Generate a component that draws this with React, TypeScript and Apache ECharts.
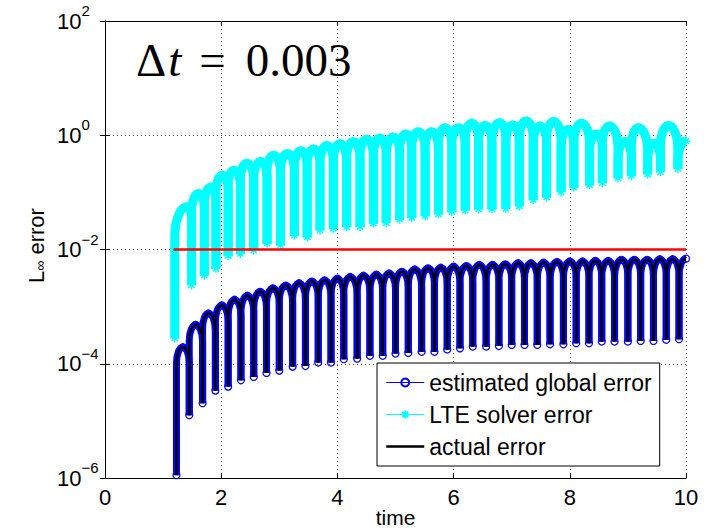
import React, { useEffect, useRef } from 'react';
import * as echarts from 'echarts';

// ---- data (time, L-infinity error) ----
// actual error: local minima (troughs) and maxima (peaks) of each oscillation
const actualTroughTime = [1.23, 1.45, 1.68, 1.90, 2.12, 2.34, 2.56, 2.78, 3.00, 3.23, 3.45, 3.67, 3.89, 4.11, 4.34, 4.56, 4.78, 5.00, 5.22, 5.45, 5.67, 5.89, 6.11, 6.33, 6.56, 6.78, 7.00, 7.22, 7.44, 7.66, 7.89, 8.11, 8.33, 8.55, 8.77, 9.00, 9.22, 9.44, 9.66, 9.88];
const actualTroughError = [1.12e-6, 1.26e-5, 2.04e-5, 3.39e-5, 3.98e-5, 5.13e-5, 5.89e-5, 6.92e-5, 7.59e-5, 8.91e-5, 9.12e-5, 1.05e-4, 1.05e-4, 1.20e-4, 1.23e-4, 1.38e-4, 1.38e-4, 1.51e-4, 1.55e-4, 1.62e-4, 1.62e-4, 1.78e-4, 1.86e-4, 2.00e-4, 2.00e-4, 2.04e-4, 2.14e-4, 2.14e-4, 2.14e-4, 2.19e-4, 2.19e-4, 2.29e-4, 2.29e-4, 2.45e-4, 2.45e-4, 2.45e-4, 2.51e-4, 2.51e-4, 2.63e-4, 2.69e-4];
const actualPeakTime = [1.34, 1.56, 1.78, 2.01, 2.23, 2.45, 2.67, 2.89, 3.11, 3.34, 3.56, 3.78, 4.00, 4.22, 4.45, 4.67, 4.89, 5.11, 5.33, 5.56, 5.78, 6.00, 6.22, 6.44, 6.67, 6.89, 7.11, 7.33, 7.55, 7.78, 8.00, 8.22, 8.44, 8.66, 8.89, 9.11, 9.33, 9.55, 9.77, 10.0];
const actualPeakError = [1.95e-4, 4.79e-4, 7.59e-4, 1.05e-3, 1.32e-3, 1.55e-3, 1.82e-3, 2.09e-3, 2.34e-3, 2.57e-3, 2.75e-3, 2.88e-3, 3.09e-3, 3.31e-3, 3.47e-3, 3.63e-3, 3.80e-3, 4.07e-3, 4.47e-3, 4.68e-3, 4.79e-3, 5.01e-3, 5.13e-3, 5.37e-3, 5.37e-3, 5.50e-3, 5.75e-3, 5.75e-3, 5.89e-3, 6.03e-3, 6.17e-3, 6.17e-3, 6.31e-3, 6.31e-3, 6.61e-3, 6.61e-3, 6.61e-3, 6.76e-3, 6.76e-3, 6.92e-3];

// estimated global error: visually coincides with the actual error
const estimatedTroughTime = actualTroughTime;
const estimatedTroughError = actualTroughError;
const estimatedPeakTime = actualPeakTime;
const estimatedPeakError = actualPeakError;

// LTE solver error
const lteTroughTime = [1.20, 1.49, 1.71, 1.91, 2.12, 2.33, 2.56, 2.79, 3.02, 3.26, 3.48, 3.70, 3.93, 4.16, 4.39, 4.62, 4.84, 5.07, 5.28, 5.51, 5.74, 5.97, 6.20, 6.43, 6.66, 6.90, 7.13, 7.37, 7.60, 7.85, 8.07, 8.34, 8.56, 8.83, 9.06, 9.34, 9.56, 9.86];
const lteTroughError = [2.82e-4, 2.40e-3, 3.55e-3, 4.68e-3, 7.76e-3, 8.51e-3, 9.77e-3, 1.29e-2, 1.20e-2, 1.78e-2, 1.66e-2, 2.19e-2, 2.34e-2, 2.51e-2, 2.51e-2, 2.88e-2, 2.95e-2, 3.39e-2, 3.63e-2, 3.89e-2, 4.17e-2, 4.57e-2, 4.90e-2, 5.13e-2, 5.13e-2, 5.25e-2, 5.75e-2, 7.41e-2, 8.32e-2, 1.02e-1, 1.23e-1, 1.35e-1, 1.48e-1, 1.78e-1, 1.95e-1, 2.09e-1, 2.29e-1, 2.63e-1];
const ltePeakTime = [1.41, 1.61, 1.82, 2.02, 2.22, 2.44, 2.68, 2.90, 3.14, 3.37, 3.59, 3.82, 4.04, 4.27, 4.50, 4.73, 4.96, 5.18, 5.39, 5.62, 5.85, 6.08, 6.31, 6.54, 6.79, 7.02, 7.25, 7.49, 7.72, 7.97, 8.20, 8.46, 8.68, 8.95, 9.18, 9.45, 9.70, 10.0];
const ltePeakError = [5.62e-2, 9.55e-2, 1.23e-1, 2.00e-1, 2.45e-1, 3.24e-1, 3.47e-1, 4.47e-1, 4.79e-1, 5.37e-1, 5.75e-1, 6.61e-1, 7.08e-1, 7.76e-1, 8.51e-1, 8.91e-1, 9.33e-1, 1.05, 1.15, 1.15, 1.35, 1.35, 1.62, 1.48, 1.66, 1.51, 1.78, 1.45, 1.74, 1.26, 1.62, 1.05, 1.45, 0.776, 1.35, 0.724, 1.48, 0.794];

// tolerance line
const thresholdTime = [1.18, 10.0];
const thresholdError = [1e-2, 1e-2];

// axes
const xTicks = { min: 0, max: 10, interval: 2 };
const yTicks = { min: 1e-6, max: 1e2 };

const legendNames = ['estimated global error', 'LTE solver error', 'actual error'];

const SANS = '"Liberation Sans", Arial, Helvetica, sans-serif';
const SERIF = '"Liberation Serif", "Times New Roman", serif';

function pairs(t: number[], v: number[]) {
  return t.map((x, i) => [x, v[i]]);
}
function merge(a: number[][], b: number[][]) {
  return [...a, ...b].sort((p, q) => p[0] - q[0]);
}
// one record per oscillation: left trough, peak, right trough (or the peak itself at the end)
function arches(trT: number[], trV: number[], pkT: number[], pkV: number[]) {
  return pkT.map((t, i) => [
    trT[i], trV[i], t, pkV[i],
    i + 1 < trT.length ? trT[i + 1] : t,
    i + 1 < trV.length ? trV[i + 1] : pkV[i],
  ]);
}

// draws each oscillation as a rounded arch through trough -> peak -> trough
function archRenderer(color: string, width: number) {
  return (_params: any, api: any) => {
    const a = api.coord([api.value(0), api.value(1)]);
    const p = api.coord([api.value(2), api.value(3)]);
    const b = api.coord([api.value(4), api.value(5)]);
    const wl = p[0] - a[0];
    const wr = b[0] - p[0];
    const hl = Math.min(2.5 * wl, 0.85 * (a[1] - p[1]));
    let d =
      `M${a[0]},${a[1]} L${a[0]},${p[1] + hl} ` +
      `C${a[0]},${p[1] + 0.45 * hl} ${p[0] - 0.55 * wl},${p[1]} ${p[0]},${p[1]}`;
    if (wr > 0.01) {
      const hr = Math.min(2.5 * wr, 0.85 * (b[1] - p[1]));
      d +=
        ` C${p[0] + 0.55 * wr},${p[1]} ${b[0]},${p[1] + 0.45 * hr} ${b[0]},${p[1] + hr}` +
        ` L${b[0]},${b[1]}`;
    }
    return {
      type: 'path',
      shape: { pathData: d },
      style: { fill: 'none', stroke: color, lineWidth: width, lineJoin: 'round' },
    };
  };
}

export default function App() {
  const ref = useRef<HTMLDivElement>(null);
  useEffect(() => {
    const chart = echarts.init(ref.current!, null, { renderer: 'svg' });
    const lteData = merge(pairs(lteTroughTime, lteTroughError), pairs(ltePeakTime, ltePeakError));
    const actualData = merge(pairs(actualTroughTime, actualTroughError), pairs(actualPeakTime, actualPeakError));
    const estData = merge(pairs(estimatedTroughTime, estimatedTroughError), pairs(estimatedPeakTime, estimatedPeakError));
    const lteArches = arches(lteTroughTime, lteTroughError, ltePeakTime, ltePeakError);
    const actualArches = arches(actualTroughTime, actualTroughError, actualPeakTime, actualPeakError);
    const estArches = arches(estimatedTroughTime, estimatedTroughError, estimatedPeakTime, estimatedPeakError);
    const supLabel = (v: number) => {
      const e = Math.round(Math.log10(v));
      return `{b|10}{s|${e < 0 ? '\u2212' + -e : e}}`;
    };
    const asterisk = 'path://M5,0L5,10M0,5L10,5M1.6,1.6L8.4,8.4M1.6,8.4L8.4,1.6';
    const tickStyle = { show: true, inside: true, length: 5, lineStyle: { color: '#000', width: 1 } };
    const gridLine = { show: true, lineStyle: { color: '#555', type: [1, 3], width: 1 } };
    const archEncode = { x: [0, 2, 4], y: [1, 3, 5] };
    chart.setOption({
      animation: false,
      backgroundColor: '#fff',
      grid: { left: 105, right: 18, top: 21, bottom: 52, containLabel: false, outerBoundsMode: 'none' },
      graphic: [
        {
          type: 'text',
          left: 136,
          top: 36,
          z: 100,
          style: {
            text: '{d|\u0394}{i|t}{e|=}{r|0.003}',
            rich: {
              d: { fontFamily: SERIF, fontSize: 47, fill: '#000', padding: [0, 2, 0, 0] },
              i: { fontFamily: SERIF, fontSize: 47, fontStyle: 'italic', fill: '#000' },
              e: { fontFamily: SERIF, fontSize: 47, fill: '#000', padding: [0, 20, 0, 18] },
              r: { fontFamily: SERIF, fontSize: 47, fill: '#000' },
            },
          },
        },
      ],
      legend: {
        orient: 'vertical',
        left: 377,
        top: 363,
        padding: 8,
        itemGap: 9,
        itemWidth: 38,
        itemHeight: 10,
        backgroundColor: '#fff',
        borderColor: '#000',
        borderWidth: 1,
        borderRadius: 0,
        selectedMode: false,
        textStyle: { fontFamily: SANS, fontSize: 23, color: '#000', lineHeight: 22 },
        data: [
          { name: legendNames[0], lineStyle: { opacity: 1, width: 1 } },
          { name: legendNames[1], lineStyle: { opacity: 1, width: 1 } },
          { name: legendNames[2], lineStyle: { opacity: 1, width: 2.5 }, itemStyle: { opacity: 0 } },
        ],
      },
      xAxis: [
        {
          type: 'value',
          ...xTicks,
          position: 'bottom',
          name: 'time',
          nameLocation: 'middle',
          nameGap: 29,
          nameMoveOverlap: false,
          nameTextStyle: { fontFamily: SANS, fontSize: 21, color: '#000', lineHeight: 21 },
          axisLine: { show: true, onZero: false, lineStyle: { color: '#000', width: 1 } },
          axisTick: tickStyle,
          axisLabel: { fontFamily: SANS, fontSize: 22, color: '#000', margin: 8 },
          splitLine: gridLine,
        },
        {
          type: 'value',
          ...xTicks,
          position: 'top',
          axisLine: { show: true, onZero: false, lineStyle: { color: '#000', width: 1 } },
          axisTick: tickStyle,
          axisLabel: { show: false },
          splitLine: { show: false },
        },
      ],
      yAxis: [
        {
          type: 'log',
          logBase: 10,
          ...yTicks,
          interval: 2,
          position: 'left',
          name: '{a|L}{u|\u221e}{a| error}',
          nameLocation: 'middle',
          nameGap: 58,
          nameRotate: 90,
          nameMoveOverlap: false,
          nameTextStyle: {
            padding: [0, 0, 0, 8],
            rich: {
              a: { fontFamily: SANS, fontSize: 22, color: '#000' },
              u: { fontFamily: SANS, fontSize: 14, color: '#000', verticalAlign: 'bottom' },
            },
          },
          axisLine: { show: true, lineStyle: { color: '#000', width: 1 } },
          axisTick: tickStyle,
          axisLabel: {
            formatter: supLabel,
            align: 'left',
            margin: 48,
            rich: {
              b: { fontFamily: SANS, fontSize: 22, color: '#000', padding: [7, 0, 7, 0] },
              s: { fontFamily: SANS, fontSize: 15, color: '#000', verticalAlign: 'top' },
            },
          },
          splitLine: gridLine,
        },
        {
          type: 'log',
          logBase: 10,
          ...yTicks,
          interval: 2,
          position: 'right',
          axisLine: { show: true, lineStyle: { color: '#000', width: 1 } },
          axisTick: tickStyle,
          axisLabel: { show: false },
          splitLine: { show: false },
        },
      ],
      series: [
        {
          name: 'estimatedArches',
          type: 'custom',
          data: estArches,
          encode: archEncode,
          renderItem: archRenderer('#0000ff', 7),
          silent: true,
          clip: true,
          z: 1,
        },
        {
          name: 'estimated global error',
          type: 'line',
          data: estData,
          symbol: 'circle',
          symbolSize: 7,
          showAllSymbol: true,
          lineStyle: { color: '#0000ff', width: 1, opacity: 0 },
          itemStyle: { color: 'rgba(255,255,255,0)', borderColor: '#0000ff', borderWidth: 1.2 },
          z: 2,
        },
        {
          name: 'lteArches',
          type: 'custom',
          data: lteArches,
          encode: archEncode,
          renderItem: archRenderer('#00ffff', 9),
          silent: true,
          clip: true,
          z: 3,
        },
        {
          name: 'LTE solver error',
          type: 'line',
          data: lteData,
          symbol: asterisk,
          symbolSize: 9,
          showAllSymbol: true,
          lineStyle: { color: '#00ffff', width: 1, opacity: 0 },
          itemStyle: { color: '#00ffff', borderColor: '#00ffff', borderWidth: 1.4 },
          z: 4,
        },
        {
          name: 'actualArches',
          type: 'custom',
          data: actualArches,
          encode: archEncode,
          renderItem: archRenderer('#000000', 2.5),
          silent: true,
          clip: true,
          z: 5,
        },
        {
          name: 'actual error',
          type: 'line',
          data: actualData,
          symbol: 'none',
          lineStyle: { color: '#000000', width: 2.5, opacity: 0 },
          itemStyle: { color: '#000000' },
          z: 5,
        },
        {
          name: 'threshold',
          type: 'line',
          data: pairs(thresholdTime, thresholdError),
          symbol: 'none',
          lineStyle: { color: '#ff0000', width: 2.5 },
          z: 6,
        },
      ],
    });
    return () => chart.dispose();
  }, []);
  return <div ref={ref} style={{ position: 'fixed', left: 0, top: 0, width: 704, height: 530 }} />;
}
